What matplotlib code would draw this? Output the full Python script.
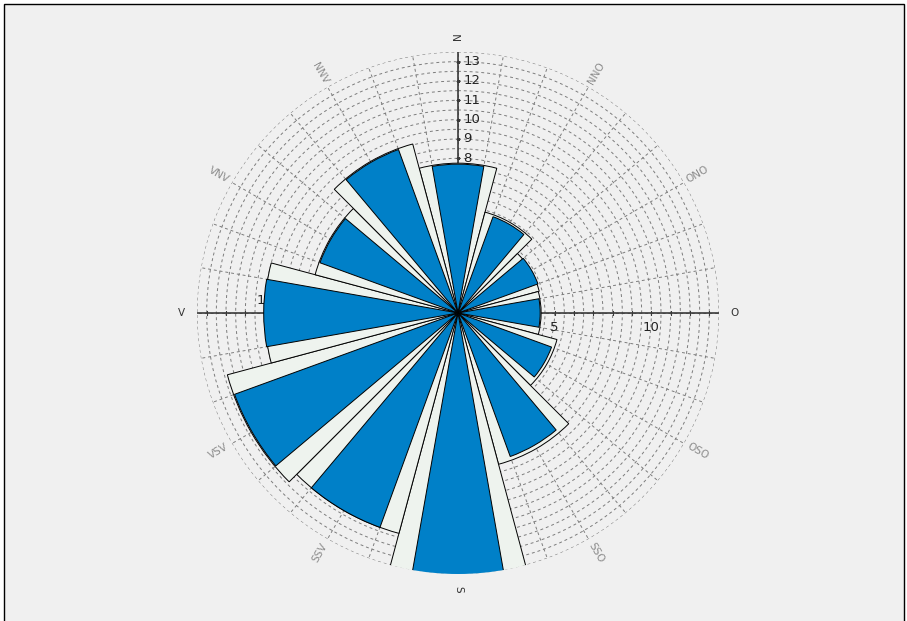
import matplotlib
matplotlib.use('Agg')
import matplotlib.pyplot as plt
from matplotlib.patches import Rectangle
import numpy as np

# Data ----------------------------------------------------------------------
directions = ['N', 'NNO', 'ONO', 'O', 'OSO', 'SSO', 'S', 'SSV', 'VSV', 'V', 'VNV', 'NNV']
angles_deg = [0, 30, 60, 90, 120, 150, 180, 210, 240, 270, 300, 330]
blue_vals = [7.7, 5.3, 4.4, 4.25, 5.15, 7.9, 13.6, 11.8, 12.3, 10.05, 7.6, 9.0]
light_vals = [7.75, 5.4, 4.35, 4.3, 5.3, 8.1, 13.65, 11.8, 12.35, 10.0, 7.65, 9.05]
north_ticks = [1, 2, 3, 4, 5, 6, 7, 8, 9, 10, 11, 12, 13]
east_ticks = [5, 10]
r_max = 13.5
# ----------------------------------------------------------------------------

blue = '#0080C8'
light = '#EEF3EE'
bg = '#F0F0F0'

fig = plt.figure(figsize=(9.07, 6.21), dpi=100, facecolor='white')
fig.patches.append(Rectangle((4 / 907, -0.02), 900 / 907, 1.02 - 4 / 621,
                             transform=fig.transFigure, facecolor=bg,
                             edgecolor='black', linewidth=1.0, zorder=-10))

ax = fig.add_axes([197 / 907, 47 / 621, 522 / 907, 522 / 621], projection='polar')
ax.set_facecolor('none')
ax.set_theta_zero_location('N')
ax.set_theta_direction(-1)
ax.set_ylim(0, r_max)
ax.spines['polar'].set_visible(False)

# dashed grid
ax.set_yticks(np.arange(0.5, r_max + 0.01, 0.5))
ax.set_yticklabels([])
ax.set_xticks(np.deg2rad(np.arange(0, 360, 10)))
ax.set_xticklabels([])
ax.grid(True, color='#7c7c7c', linestyle=(0, (3, 3)), linewidth=0.7)
ax.set_axisbelow(True)

theta = np.deg2rad(angles_deg)

# axis lines
for a in [0, 90, 180, 270]:
    ax.plot([np.deg2rad(a), np.deg2rad(a)], [0, r_max], color='#3a3a3a',
            linewidth=1.2, zorder=1.5)
r_ticks = np.arange(1, 14)
for a in [0, 180]:
    ax.plot(np.full(len(r_ticks), np.deg2rad(a)), r_ticks, linestyle='none',
            marker='_', markersize=3, markeredgewidth=0.8, color='#3a3a3a', zorder=1.5)
for a in [90, 270]:
    ax.plot(np.full(len(r_ticks), np.deg2rad(a)), r_ticks, linestyle='none',
            marker='|', markersize=3, markeredgewidth=0.8, color='#3a3a3a', zorder=1.5)

# radial labels
for r in north_ticks:
    ax.annotate(str(r), xy=(0, r), xytext=(4, 0), textcoords='offset points',
                ha='left', va='center', fontsize=9.5, color='#222222', zorder=1.6)
for r in east_ticks:
    ax.annotate(str(r), xy=(np.pi / 2, r), xytext=(0, -6), textcoords='offset points',
                ha='center', va='top', fontsize=9.5, color='#222222', zorder=1.6)
    ax.annotate(str(r), xy=(3 * np.pi / 2, r), xytext=(0, 4), textcoords='offset points',
                ha='center', va='bottom', fontsize=9.5, color='#222222', zorder=1.6)

# bars
ax.bar(theta, light_vals, width=np.deg2rad(30), bottom=0, color=light,
       edgecolor='black', linewidth=0.7, zorder=2)
ax.bar(theta, blue_vals, width=np.deg2rad(20), bottom=0, color=blue,
       edgecolor='black', linewidth=0.7, zorder=3)

# direction labels
for name, a in zip(directions, angles_deg):
    rot = 90 - a
    while rot > 90:
        rot -= 180
    while rot < -90:
        rot += 180
    col = '#333333' if a % 90 == 0 else '#8c8c8c'
    ax.text(np.deg2rad(a), 14.3, name, rotation=rot, rotation_mode='anchor',
            ha='center', va='center', fontsize=7.5, color=col, clip_on=False)

fig.savefig('out.png', dpi=100, facecolor=fig.get_facecolor())
